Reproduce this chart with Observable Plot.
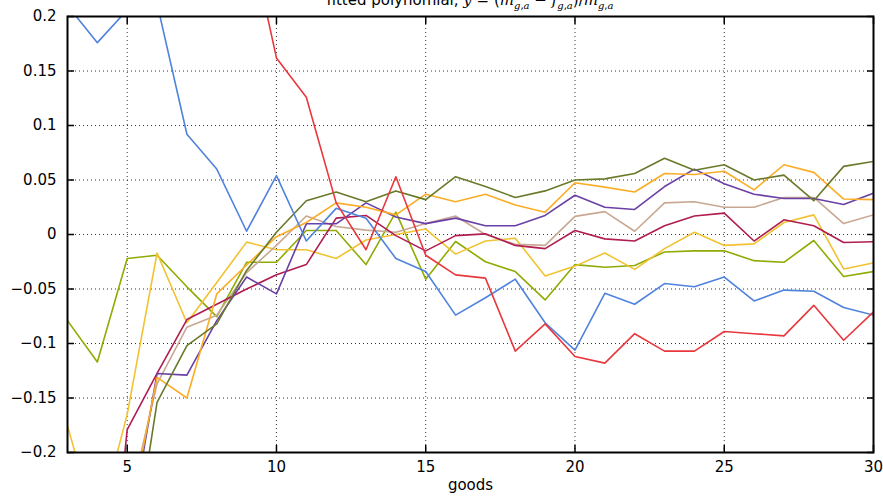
<!DOCTYPE html>
<html>
<head>
<meta charset="utf-8">
<script src="https://cdn.jsdelivr.net/npm/d3@7"></script>
<script src="https://cdn.jsdelivr.net/npm/@observablehq/plot@0.6"></script>
<style>
body { margin: 0; background: #fff; }
#wrap { position: relative; width: 883px; height: 498px; overflow: hidden; }
#title { position: absolute; left: 67px; width: 806px; top: -9px; text-align: center;
  font: 15px/18px "DejaVu Sans"; white-space: nowrap; color: #000; }
#title i { font-family: "DejaVu Serif"; }
#title sub { font-size: 10px; }
</style>
</head>
<body>
<div id="wrap">
  <div id="chart"></div>
  <div id="title">fitted polynomial, <i>y</i> = (<i>m</i><sub><i>g</i>,<i>a</i></sub> − <i>f</i><sub><i>g</i>,<i>a</i></sub>)/<i>m</i><sub><i>g</i>,<i>a</i></sub></div>
</div>
<script>
// goods (x) values
const goods = [3,4,5,6,7,8,9,10,11,12,13,14,15,16,17,18,19,20,21,22,23,24,25,26,27,28,29,30];

// series values (null = not readable, outside the plotted range)
const blue = [0.21, 0.176, 0.206, 0.212, 0.092, 0.060, 0.003, 0.054, -0.006, 0.024, 0.015, -0.022, -0.034, -0.074, -0.058, -0.041, -0.081, -0.106, -0.054, -0.064, -0.045, -0.048, -0.039, -0.061, -0.051, -0.052, -0.067, -0.074];
const red = [null, null, null, null, null, null, 0.287, 0.162, 0.126, 0.029, -0.014, 0.053, -0.019, -0.037, -0.040, -0.107, -0.082, -0.112, -0.118, -0.091, -0.107, -0.107, -0.089, -0.091, -0.093, -0.065, -0.097, -0.071];
const olive = [null, null, -0.33, -0.154, -0.102, -0.082, -0.033, 0.002, 0.031, 0.039, 0.030, 0.040, 0.032, 0.053, 0.044, 0.034, 0.040, 0.050, 0.051, 0.056, 0.070, 0.059, 0.064, 0.050, 0.0545, 0.031, 0.0625, 0.067];
const orange = [null, null, -0.27, -0.131, -0.150, -0.0545, -0.028, -0.002, 0.011, 0.029, 0.025, 0.018, 0.037, 0.030, 0.037, 0.027, 0.0205, 0.0475, 0.0435, 0.039, 0.056, 0.055, 0.058, 0.041, 0.064, 0.057, 0.0325, 0.032];
const purple = [null, null, -0.285, -0.1275, -0.129, -0.079, -0.039, -0.0545, 0.0098, 0.0098, 0.029, 0.016, 0.010, 0.015, 0.008, 0.008, 0.0175, 0.036, 0.025, 0.023, 0.044, 0.060, 0.0466, 0.037, 0.033, 0.033, 0.0276, 0.038];
const tan = [null, null, -0.255, -0.137, -0.085, -0.074, -0.035, -0.010, 0.017, 0.0074, 0.004, 0.002, 0.010, 0.017, 0.000, -0.009, -0.010, 0.0166, 0.021, 0.003, 0.029, 0.030, 0.025, 0.025, 0.034, 0.034, 0.010, 0.018];
const crimson = [null, -0.45, -0.179, -0.1275, -0.078, -0.064, -0.050, -0.037, -0.0276, 0.015, 0.0175, -0.001, -0.015, -0.001, 0.0006, -0.010, -0.013, 0.0037, -0.004, -0.006, 0.008, 0.017, 0.0196, -0.006, 0.0135, 0.008, -0.0074, -0.0067];
const yellow = [-0.176, -0.27, -0.165, -0.017, -0.081, -0.044, -0.007, -0.014, -0.014, -0.022, -0.005, 0.000, 0.005, -0.018, -0.006, -0.0034, -0.038, -0.029, -0.017, -0.032, -0.013, 0.002, -0.010, -0.0086, 0.011, 0.018, -0.0316, -0.026];
const yellowgreen = [-0.079, -0.117, -0.022, -0.019, -0.048, -0.0754, -0.0255, -0.0255, 0.0037, 0.0037, -0.0276, 0.0205, -0.041, -0.0064, -0.025, -0.034, -0.060, -0.0276, -0.030, -0.0285, -0.016, -0.015, -0.015, -0.024, -0.0255, -0.0055, -0.0386, -0.034];

const seriesNames = ["yellowgreen", "yellow", "tan", "crimson", "purple", "orange", "olive", "blue", "red"];
const seriesValues = {yellowgreen, yellow, tan, crimson, purple, orange, olive, blue, red};
const seriesColors = {
  blue: "#4f83dd", red: "#e8383d", olive: "#687a2a", orange: "#fbad26",
  purple: "#6a40a6", tan: "#c8a893", crimson: "#b01d50", yellow: "#f1c232", yellowgreen: "#90ab03"
};

const xTicks = [5, 10, 15, 20, 25, 30];
const yTicks = [-0.2, -0.15, -0.1, -0.05, 0, 0.05, 0.1, 0.15, 0.2];
const fmt = d => (d < 0 ? "\u2212" : "") + String(Math.abs(d));

const lineMarks = seriesNames.map(name =>
  Plot.line(goods.map((g, i) => ({goods: g, value: seriesValues[name][i]})), {
    x: "goods", y: "value", stroke: seriesColors[name], strokeWidth: 1.6, clip: true
  })
);

const chart = Plot.plot({
  width: 883, height: 498,
  marginLeft: 67, marginRight: 10, marginTop: 16, marginBottom: 46,
  style: {fontFamily: "DejaVu Sans", fontSize: "15px", color: "black", background: "white", overflow: "visible"},
  x: {domain: [3, 30]},
  y: {domain: [-0.2, 0.2]},
  marks: [
    Plot.gridX(xTicks, {stroke: "#111", strokeOpacity: 0.85, strokeDasharray: "1,3"}),
    Plot.gridY(yTicks, {stroke: "#111", strokeOpacity: 0.85, strokeDasharray: "1,3"}),
    ...lineMarks,
    Plot.axisY(yTicks, {anchor: "left", tickSize: 0, tickPadding: 11, tickFormat: fmt, label: null, fontSize: 15}),
    Plot.axisY(yTicks, {anchor: "left", tickSize: -7, fill: "none", label: null, strokeWidth: 1.5}),
    Plot.axisY(yTicks, {anchor: "right", tickSize: -7, fill: "none", label: null, strokeWidth: 1.5}),
    Plot.axisX(xTicks, {anchor: "bottom", tickSize: 0, tickPadding: 9, tickFormat: d => String(d), label: null, fontSize: 15}),
    Plot.axisX(xTicks, {anchor: "bottom", tickSize: -7, fill: "none", label: null, strokeWidth: 1.5}),
    Plot.axisX(xTicks, {anchor: "top", tickSize: -7, fill: "none", label: null, strokeWidth: 1.5}),
    Plot.frame({stroke: "black", strokeWidth: 2}),
    Plot.text(["goods"], {frameAnchor: "bottom", dy: 37, fontSize: 15, fill: "black"})
  ]
});
document.getElementById("chart").appendChild(chart);
</script>
</body>
</html>
